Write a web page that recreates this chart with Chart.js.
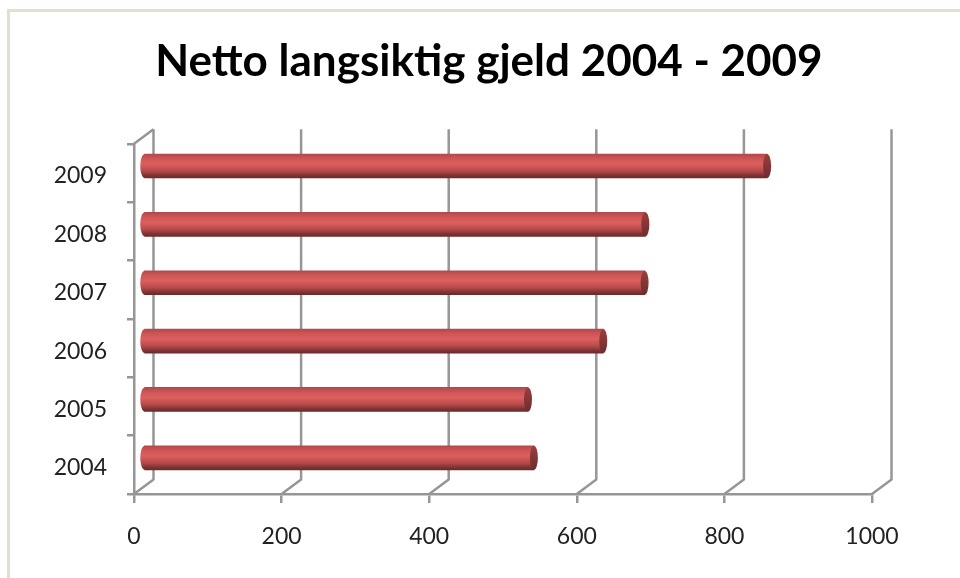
<!DOCTYPE html>
<html>
<head>
<meta charset="utf-8">
<style>
html,body{margin:0;padding:0;background:#fff;overflow:hidden}
#frame{position:absolute;left:7px;top:9px;right:0;bottom:0;border-top:3px solid #e3dfc9;border-left:3px solid #e3dfc9}
#wrap{position:absolute;left:0;top:0;width:960px;height:578px}
</style>
<script src="https://cdn.jsdelivr.net/npm/chart.js@4/dist/chart.umd.min.js"></script>
</head>
<body>
<div id="frame"></div>
<div id="wrap"><canvas id="c" width="960" height="578"></canvas></div>
<script>
const categories = ['2009','2008','2007','2006','2005','2004'];
const values = [845,680,679,623,521,529];
const chartTitle = 'Netto langsiktig gjeld 2004 - 2009';
const axisMax = 1000, axisStep = 200;

const AXIS = '#969696', DEPTH_X = 19.5, DEPTH_Y = 14.5, BAR_DX = 9.5, BAR_DY = -7, BAR_H = 24;

function shade(c, yc){
  const g = c.createLinearGradient(0, yc-BAR_H/2, 0, yc+BAR_H/2);
  g.addColorStop(0,'#b04a4a');
  g.addColorStop(0.2,'#cf5656');
  g.addColorStop(0.42,'#dd5f5f');
  g.addColorStop(0.7,'#b84a4a');
  g.addColorStop(0.9,'#7f3232');
  g.addColorStop(1,'#6a2a2a');
  return g;
}
function cylinder(ctx){
  const chart = ctx.chart;
  if(!chart.chartArea || ctx.dataIndex === undefined) return '#c85050';
  return shade(chart.ctx, chart.scales.y.getPixelForValue(ctx.dataIndex));
}

const walls = {
  id:'walls',
  beforeDatasetsDraw(chart){
    const {ctx, chartArea:a, scales:{x}} = chart;
    ctx.save();
    ctx.strokeStyle = AXIS;
    ctx.lineWidth = 2.5;
    ctx.lineJoin = 'round';
    x.ticks.forEach(t=>{
      const px = x.getPixelForValue(t.value);
      ctx.beginPath();
      ctx.moveTo(px, a.bottom);
      ctx.lineTo(px+DEPTH_X, a.bottom-DEPTH_Y);
      ctx.lineTo(px+DEPTH_X, a.top-DEPTH_Y);
      ctx.stroke();
    });
    const p0 = x.getPixelForValue(0);
    ctx.beginPath();
    ctx.moveTo(p0, a.top);
    ctx.lineTo(p0+DEPTH_X, a.top-DEPTH_Y);
    ctx.stroke();
    ctx.restore();
    ctx.save();
    ctx.translate(BAR_DX, BAR_DY);
    chart.getDatasetMeta(0).data.forEach(b=>{
      ctx.fillStyle = shade(ctx, b.y);
      ctx.beginPath();
      ctx.ellipse(b.base, b.y, 4.5, BAR_H/2, 0, 0, Math.PI*2);
      ctx.fill();
    });
  },
  afterDatasetsDraw(chart){
    const ctx = chart.ctx;
    chart.getDatasetMeta(0).data.forEach(b=>{
      const g = ctx.createLinearGradient(0,b.y-BAR_H/2,0,b.y+BAR_H/2);
      g.addColorStop(0,'#9a3f3f');
      g.addColorStop(1,'#6f2c2c');
      ctx.fillStyle = g;
      ctx.beginPath();
      ctx.ellipse(b.x, b.y, 4, BAR_H/2, 0, 0, Math.PI*2);
      ctx.fill();
    });
    ctx.restore();
  }
};

new Chart(document.getElementById('c'),{
  type:'bar',
  data:{labels:categories,datasets:[{
    data:values,
    backgroundColor:cylinder,
    barThickness:BAR_H,
    borderSkipped:false,
    clip:false
  }]},
  options:{
    indexAxis:'y',
    responsive:false,
    animation:false,
    layout:{padding:{left:18,right:0,top:0,bottom:0}},
    plugins:{
      legend:{display:false},
      tooltip:{enabled:false},
      title:{
        display:true,
        text:chartTitle,
        color:'#000',
        font:{family:'Lato',size:44,weight:'bold',lineHeight:1.2},
        padding:{top:35,bottom:56}
      }
    },
    scales:{
      x:{
        min:0,max:axisMax,
        afterFit(s){ s.height = 84; s.paddingRight = 88; s.paddingLeft = 0; },
        ticks:{stepSize:axisStep,color:'#222',font:{family:'Lato',size:23},padding:20,maxRotation:0,
          callback:v=>String(v)},
        grid:{drawOnChartArea:false,drawTicks:true,tickLength:9,color:AXIS,lineWidth:2.5},
        border:{color:AXIS,width:2.5}
      },
      y:{
        afterFit(s){ s.width = 116; },
        ticks:{color:'#222',font:{family:'Lato',size:23},padding:20,labelOffset:3},
        grid:{drawOnChartArea:false,drawTicks:true,tickLength:7,color:AXIS,lineWidth:2.5},
        border:{color:AXIS,width:2.5}
      }
    }
  },
  plugins:[walls]
});
</script>
</body>
</html>
